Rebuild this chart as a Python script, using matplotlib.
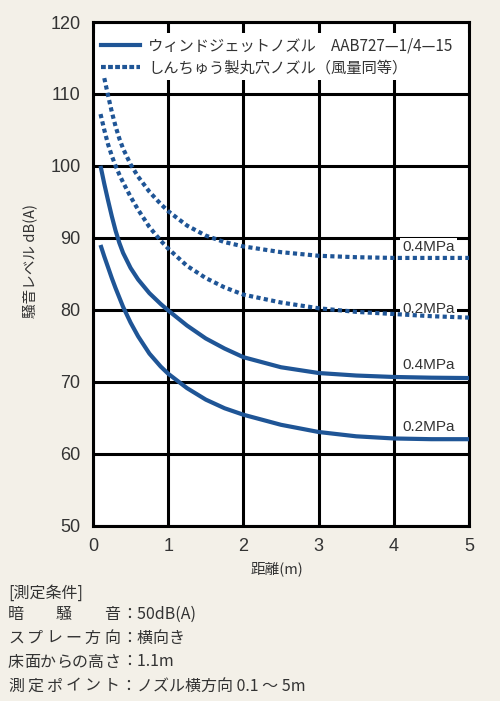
import matplotlib
matplotlib.use("Agg")
import matplotlib.pyplot as plt
from matplotlib.lines import Line2D
from matplotlib.patches import Rectangle

# ---- data ----
x_main = [0.1, 0.15, 0.2, 0.25, 0.3, 0.35, 0.4, 0.5, 0.6, 0.75, 0.9, 1.0, 1.25, 1.5, 1.75, 2.0, 2.5, 3.0, 3.5, 4.0, 4.5, 5.0]
x_dot04 = [0.15, 0.2, 0.25, 0.3, 0.35, 0.4, 0.5, 0.6, 0.75, 0.9, 1.0, 1.25, 1.5, 1.75, 2.0, 2.5, 3.0, 3.5, 4.0, 4.5, 5.0]
solid_04 = [100.0, 97.5, 95.2, 93.0, 91.0, 89.3, 87.9, 85.8, 84.2, 82.3, 80.8, 79.9, 77.8, 76.0, 74.6, 73.4, 72.0, 71.2, 70.85, 70.65, 70.55, 70.5]
solid_02 = [89.0, 87.4, 85.9, 84.4, 83.0, 81.7, 80.4, 78.2, 76.3, 73.9, 72.1, 71.1, 69.1, 67.5, 66.3, 65.4, 64.0, 63.0, 62.4, 62.1, 62.0, 62.0]
dot_02 = [107.2, 105.0, 103.0, 101.4, 100.0, 98.8, 97.7, 95.7, 93.9, 91.5, 89.6, 88.5, 86.1, 84.4, 83.1, 82.1, 81.0, 80.2, 79.7, 79.4, 79.1, 78.9]
dot_04 = [112.2, 109.8, 107.5, 105.5, 103.8, 102.4, 100.2, 98.5, 96.4, 94.7, 93.7, 91.7, 90.3, 89.4, 88.8, 88.0, 87.5, 87.3, 87.2, 87.2, 87.2]

legend_labels = ["ウィンドジェットノズル　AAB727—1/4—15", "しんちゅう製丸穴ノズル（風量同等）"]
curve_labels = ["0.4MPa", "0.2MPa", "0.4MPa", "0.2MPa"]
label_pos = [(4.11, 88.7), (4.11, 80.06), (4.11, 72.3), (4.11, 63.7)]
xticks = [0, 1, 2, 3, 4, 5]
yticks = [50, 60, 70, 80, 90, 100, 110, 120]
xlabel = "距離(m)"
ylabel = "騒音レベル dB(A)"
cond_title = "[測定条件]"
cond_keys = ["暗騒音", "スプレー方向", "床面からの高さ", "測定ポイント"]
cond_vals = ["：50dB(A)", "：横向き", "：1.1m", "：ノズル横方向 0.1 ～ 5m"]

BG = "#f3f0e8"
BLUE = "#1f5596"
TXT = "#333333"
CJK = ["Noto Sans CJK JP", "DejaVu Sans"]
LAT = ["Liberation Sans", "DejaVu Sans"]

W, H = 500, 701
fig = plt.figure(figsize=(5.0, 7.01), dpi=100, facecolor=BG)
ax = fig.add_axes([93 / W, (H - 525.5) / H, 376 / W, 503.5 / H])
ax.set_facecolor("white")
ax.set_xlim(0, 5)
ax.set_ylim(50, 120)
ax.set_axisbelow(True)
ax.grid(True, color="black", linewidth=2.2)
for s in ax.spines.values():
    s.set_linewidth(2.2)
    s.set_color("black")
ax.set_xticks(xticks)
ax.set_yticks(yticks)
ax.tick_params(length=0, pad=9, labelsize=13, labelcolor=TXT)
for lab in ax.get_xticklabels() + ax.get_yticklabels():
    lab.set_family(LAT)

# white band behind legend
ax.add_patch(Rectangle((0, (525.5 - 80) / 503.5), 1, (80 - 33) / 503.5,
                       transform=ax.transAxes, facecolor="white", edgecolor="none", zorder=1))

lw = 3.0
dots = (0, (1.0, 0.8))
ax.plot(x_main, solid_04, color=BLUE, lw=lw, zorder=3, solid_capstyle="butt", solid_joinstyle="round")
ax.plot(x_main, solid_02, color=BLUE, lw=lw, zorder=3, solid_capstyle="butt", solid_joinstyle="round")
ax.plot(x_dot04, dot_04, color=BLUE, lw=lw, ls=dots, zorder=3)
ax.plot(x_main, dot_02, color=BLUE, lw=lw, ls=dots, zorder=3)

for (lx, ly), t in zip(label_pos, curve_labels):
    ax.text(lx, ly, t, fontsize=11, family=LAT, color=TXT, va="center", ha="left", zorder=2.6,
            bbox=dict(facecolor="white", edgecolor="none", pad=1.5))

handles = [Line2D([], [], color=BLUE, lw=lw),
           Line2D([], [], color=BLUE, lw=lw, ls=(0, (1.15, 0.55)))]
leg = ax.legend(handles, legend_labels, loc="upper left", bbox_to_anchor=(0.02, 0.969),
                frameon=False, borderpad=0, borderaxespad=0, handlelength=2.6,
                handletextpad=0.5, labelspacing=0.33, prop={"family": CJK, "size": 11})
for t in leg.get_texts():
    t.set_color(TXT)

fig.text(277 / W, 1 - 569 / H, xlabel, fontsize=10.5, family=CJK, color=TXT, ha="center", va="center")
fig.text(30 / W, 1 - 261 / H, ylabel, fontsize=10.5, family=CJK, color=TXT, ha="center", va="center",
         rotation=90)

# conditions block
fs = 11.5
fig.text(8 / W, 1 - 593 / H, cond_title, fontsize=fs, family=CJK, color=TXT, ha="left", va="center")
rows_y = [614, 638, 662, 686]
x0, x1 = 8, 120
cw = fs * 100 / 72
for key, val, yy in zip(cond_keys, cond_vals, rows_y):
    n = len(key)
    step = (x1 - x0 - cw) / (n - 1)
    for i, ch in enumerate(key):
        fig.text((x0 + i * step) / W, 1 - yy / H, ch, fontsize=fs, family=CJK, color=TXT,
                 ha="left", va="center")
    fig.text(121 / W, 1 - yy / H, val, fontsize=fs, family=CJK, color=TXT, ha="left", va="center")

fig.savefig("out.png", dpi=100, facecolor=BG)
